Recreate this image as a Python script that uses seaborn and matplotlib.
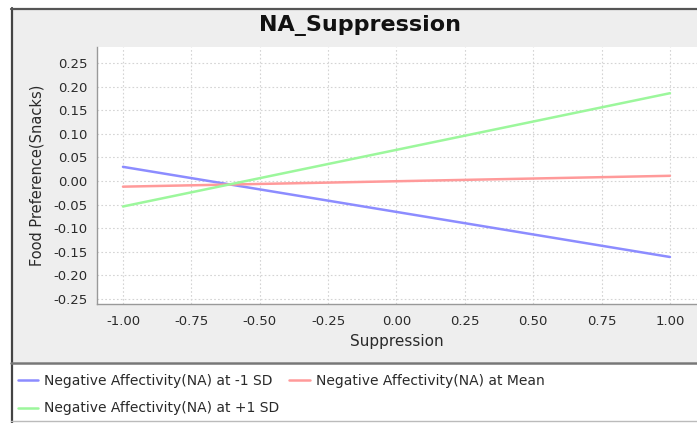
import matplotlib
matplotlib.use("Agg")
import matplotlib.pyplot as plt
from matplotlib.patches import Rectangle
from matplotlib.lines import Line2D
import pandas as pd
import seaborn as sns

# ---- data ----
suppression = [-1.0, 1.0]
na_low = [0.030, -0.161]
na_mean = [-0.012, 0.011]
na_high = [-0.054, 0.186]
series_names = ["Negative Affectivity(NA) at -1 SD",
                "Negative Affectivity(NA) at Mean",
                "Negative Affectivity(NA) at +1 SD"]
series_colors = ["#8c8cff", "#ff9a9a", "#9cf79c"]
x_ticks = [-1.0, -0.75, -0.5, -0.25, 0.0, 0.25, 0.5, 0.75, 1.0]
y_ticks = [-0.25, -0.2, -0.15, -0.1, -0.05, 0.0, 0.05, 0.1, 0.15, 0.2, 0.25]

rows = []
for name, vals in zip(series_names, [na_low, na_mean, na_high]):
    for xv, yv in zip(suppression, vals):
        rows.append({"Suppression": xv, "value": yv, "series": name})
df = pd.DataFrame(rows)

sns.set_style("white")
plt.rcParams["font.family"] = ["DejaVu Sans"]

W, H = 697, 423
fig = plt.figure(figsize=(W / 100, H / 100), dpi=100)
fig.patch.set_facecolor("white")


def fx(px):
    return px / W


def fy(py):
    return 1 - py / H


# chart panel background and frame
fig.add_artist(Rectangle((fx(11), fy(362)), fx(W - 11), (362 - 8) / H,
                         transform=fig.transFigure, facecolor="#eeeeee",
                         edgecolor="none", zorder=0))
fig.add_artist(Line2D([fx(12), fx(12)], [fy(8), fy(423)], transform=fig.transFigure,
                      color="#444444", lw=1.6))
fig.add_artist(Line2D([fx(11), fx(W)], [fy(9), fy(9)], transform=fig.transFigure,
                      color="#555555", lw=1.6))
fig.add_artist(Line2D([fx(11), fx(W)], [fy(362.5), fy(362.5)], transform=fig.transFigure,
                      color="#777777", lw=1.8))
fig.add_artist(Line2D([fx(11), fx(W)], [fy(421), fy(421)], transform=fig.transFigure,
                      color="#bbbbbb", lw=1.0))

# plot area
ax = fig.add_axes([fx(97), fy(304), fx(W - 97), (304 - 47) / H])
sns.lineplot(data=df, x="Suppression", y="value", hue="series",
             palette=dict(zip(series_names, series_colors)), lw=1.8,
             legend=False, ax=ax)

ax.set_xlim(-1.095, 1.099)
ax.set_ylim(-0.2606, 0.2839)
ax.set_xticks(x_ticks)
ax.set_yticks(y_ticks)
ax.set_xticklabels([f"{v:.2f}" for v in x_ticks])
ax.set_yticklabels([f"{v:.2f}" for v in y_ticks])
ax.tick_params(labelsize=9.5, colors="#2a2a2a", length=3, width=0.8, pad=4)
ax.tick_params(axis="x", pad=5)
ax.grid(True, color="#d4d4d4", linestyle=(0, (1.5, 2)), lw=0.8)
ax.set_facecolor("white")
for side in ["top", "right"]:
    ax.spines[side].set_visible(False)
for side in ["left", "bottom"]:
    ax.spines[side].set_color("#999999")
    ax.spines[side].set_linewidth(1.0)

ax.set_xlabel("Suppression", fontsize=11, color="#2a2a2a", labelpad=4)
ax.set_ylabel("Food Preference(Snacks)", fontsize=10.5, color="#2a2a2a", labelpad=6)

fig.text(fx(360), fy(26), "NA_Suppression", ha="center", va="center",
         fontsize=16, fontweight="bold", color="#111111")

# legend (row layout: reorder for column-major fill)
handles = [Line2D([], [], color=c, lw=1.8) for c in series_colors]
order = [0, 2, 1]
leg = fig.legend([handles[i] for i in order], [series_names[i] for i in order],
                 ncol=2, loc="upper left", bbox_to_anchor=(fx(18), fy(374)),
                 frameon=False, fontsize=10, handlelength=1.45, handletextpad=0.45,
                 columnspacing=0.7, labelspacing=0.97, borderaxespad=0, borderpad=0)
for t in leg.get_texts():
    t.set_color("#2a2a2a")

fig.savefig("out.png", dpi=100)
